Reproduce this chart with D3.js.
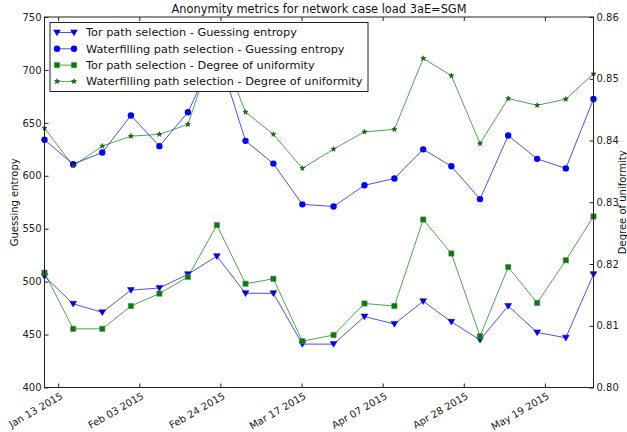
<!DOCTYPE html>
<html>
<head>
<meta charset="utf-8">
<script src="https://cdn.jsdelivr.net/npm/d3@7"></script>
<style>
  html, body { margin: 0; padding: 0; background: #fff; }
  svg { display: block; font-family: "DejaVu Sans", sans-serif; }
</style>
</head>
<body>
<svg id="chart" width="627" height="432"></svg>
<script>
// ---- data ----
const dates = [
  "2015-01-09T11:00", "2015-01-16T21:00", "2015-01-24T10:00", "2015-01-31T20:00",
  "2015-02-08T05:00", "2015-02-15T14:00", "2015-02-23T02:00", "2015-03-02T12:00",
  "2015-03-09T17:00", "2015-03-17T05:00", "2015-03-25T07:00", "2015-04-02T07:00",
  "2015-04-10T01:00", "2015-04-17T12:00", "2015-04-24T19:00", "2015-05-02T05:00",
  "2015-05-09T12:00", "2015-05-17T00:00", "2015-05-24T10:00", "2015-05-31T14:00"
];
const torEntropy = [505, 479, 471, 492, 494, 507, 524, 489, 489, 441,
                    441, 467, 460, 481.5, 462, 445, 477, 452, 447, 507];
const wfEntropy = [634, 611, 622, 657, 628, 660, 719, 633, 611.5, 573,
                   571, 591, 597.5, 625, 609, 578, 638, 616, 607, 672.5];
const torUniformity = [0.8186, 0.8095, 0.8095, 0.8132, 0.8152, 0.8179, 0.8263, 0.8168, 0.8176, 0.8075,
                       0.8085, 0.8136, 0.8132, 0.8272, 0.8217, 0.8083, 0.8195, 0.8137, 0.8206, 0.8277];
const wfUniformity = [0.8420, 0.8359, 0.8391, 0.8407, 0.8410, 0.8426, 0.8565, 0.8446, 0.8410, 0.8355,
                      0.8386, 0.8414, 0.8418, 0.8533, 0.8505, 0.8395, 0.8468, 0.8457, 0.8467, 0.8508];
const xTickDates = ["2015-01-13", "2015-02-03", "2015-02-24", "2015-03-17", "2015-04-07", "2015-04-28", "2015-05-19"];
const leftTicks = [400, 450, 500, 550, 600, 650, 700, 750];
const rightTicks = [0.80, 0.81, 0.82, 0.83, 0.84, 0.85, 0.86];
const titleText = "Anonymity metrics for network case load 3aE=SGM";
const seriesNames = [
  "Tor path selection - Guessing entropy",
  "Waterfilling path selection - Guessing entropy",
  "Tor path selection - Degree of uniformity",
  "Waterfilling path selection - Degree of uniformity"
];

// ---- layout ----
const W = 627, H = 432;
const m = { left: 44.5, right: 593.5, top: 17, bottom: 387.5 };
const svg = d3.select("#chart");
const parse = s => new Date(s);
const xDates = dates.map(parse);

const x = d3.scaleTime().domain(d3.extent(xDates)).range([m.left, m.right]);
const yL = d3.scaleLinear().domain([400, 750]).range([m.bottom, m.top]);
const yR = d3.scaleLinear().domain([0.80, 0.86]).range([m.bottom, m.top]);

const BLUE = "#0000ff", GREEN = "#008000";
const series = [
  { name: seriesNames[0], vals: torEntropy, y: yL, color: BLUE, marker: "tri" },
  { name: seriesNames[1], vals: wfEntropy, y: yL, color: BLUE, marker: "circle" },
  { name: seriesNames[2], vals: torUniformity, y: yR, color: GREEN, marker: "square" },
  { name: seriesNames[3], vals: wfUniformity, y: yR, color: GREEN, marker: "star" }
];

const symbols = {
  tri: d3.symbol().type({ draw(ctx, size) { const r = 3.4; ctx.moveTo(-r, -r*0.75); ctx.lineTo(r, -r*0.75); ctx.lineTo(0, r*0.95); ctx.closePath(); } }).size(1),
  circle: d3.symbol().type(d3.symbolCircle).size(32),
  square: d3.symbol().type(d3.symbolSquare).size(28),
  star: d3.symbol().type(d3.symbolStar).size(8)
};
function drawMarker(g, s, cx, cy) {
  const p = g.append("path").attr("d", symbols[s.marker]())
    .attr("transform", `translate(${cx},${cy})`)
    .attr("fill", s.color);
  if (s.marker === "square") p.attr("stroke", "#777").attr("stroke-width", 0.6);
  else if (s.marker === "tri") p.attr("stroke", "#000080").attr("stroke-width", 0.5);
  else if (s.marker === "star") p.attr("stroke", "#003000").attr("stroke-width", 0.5);
}

// clip
svg.append("defs").append("clipPath").attr("id", "clip")
  .append("rect").attr("x", m.left).attr("y", m.top).attr("width", m.right - m.left).attr("height", m.bottom - m.top);

const plot = svg.append("g").attr("clip-path", "url(#clip)");
series.forEach(s => {
  const line = d3.line().x((d, i) => x(xDates[i])).y(d => s.y(d));
  plot.append("path").datum(s.vals).attr("d", line)
    .attr("fill", "none").attr("stroke", s.color).attr("stroke-width", 1).attr("stroke-opacity", 0.7);
});
series.forEach(s => {
  const g = svg.append("g");
  s.vals.forEach((v, i) => drawMarker(g, s, x(xDates[i]), s.y(v)));
});

// axes
const fs = 10;
const axisColor = "#222";
const xAxis = d3.axisBottom(x).tickValues(xTickDates.map(parse)).tickFormat(d3.timeFormat("%b %d %Y"))
  .tickSizeInner(-4).tickSizeOuter(0).tickPadding(5);
const gx = svg.append("g").attr("transform", `translate(0,${m.bottom})`).call(xAxis);
gx.selectAll("text").attr("font-size", fs).attr("fill", "#222")
  .attr("text-anchor", "end")
  .attr("transform", "translate(1,4) rotate(-30)").attr("x", 0).attr("y", 0).attr("dy", "0.75em");

const gxTop = svg.append("g").attr("transform", `translate(0,${m.top})`)
  .call(d3.axisTop(x).tickValues(xTickDates.map(parse)).tickFormat("").tickSizeInner(-4).tickSizeOuter(0));

const gyL = svg.append("g").attr("transform", `translate(${m.left},0)`)
  .call(d3.axisLeft(yL).tickValues(leftTicks).tickFormat(d3.format("d")).tickSizeInner(-4).tickSizeOuter(0).tickPadding(3));
gyL.selectAll("text").attr("font-size", fs).attr("fill", "#222");

const gyR = svg.append("g").attr("transform", `translate(${m.right},0)`)
  .call(d3.axisRight(yR).tickValues(rightTicks).tickFormat(d3.format(".2f")).tickSizeInner(-4).tickSizeOuter(0).tickPadding(3));
gyR.selectAll("text").attr("font-size", fs).attr("fill", "#222");

[gx, gxTop, gyL, gyR].forEach(g => {
  g.select(".domain").remove();
  g.selectAll("line").attr("stroke", axisColor);
  g.attr("font-family", null);
});

// frame
svg.append("rect").attr("x", m.left).attr("y", m.top)
  .attr("width", m.right - m.left).attr("height", m.bottom - m.top)
  .attr("fill", "none").attr("stroke", axisColor).attr("stroke-width", 1);

// labels
svg.append("text").attr("x", (m.left + m.right) / 2).attr("y", 13)
  .attr("text-anchor", "middle").attr("font-size", 11.4).attr("fill", "#111").text(titleText);
svg.append("text").attr("transform", `translate(18,${(m.top + m.bottom) / 2}) rotate(-90)`)
  .attr("text-anchor", "middle").attr("font-size", fs).attr("fill", "#111").text("Guessing entropy");
svg.append("text").attr("transform", `translate(626,${(m.top + m.bottom) / 2}) rotate(-90)`)
  .attr("text-anchor", "middle").attr("font-size", fs).attr("fill", "#111").text("Degree of uniformity");

// legend
const lg = svg.append("g");
const lx = 50, ly = 22.5, lw = 318, lh = 69;
lg.append("rect").attr("x", lx).attr("y", ly).attr("width", lw).attr("height", lh)
  .attr("fill", "#fff").attr("stroke", "#222").attr("stroke-width", 1);
series.forEach((s, i) => {
  const cy = 32.5 + i * 16.3;
  lg.append("line").attr("x1", 57).attr("x2", 74).attr("y1", cy).attr("y2", cy)
    .attr("stroke", s.color).attr("stroke-width", 1).attr("stroke-opacity", 0.7);
  drawMarker(lg, s, 57, cy);
  drawMarker(lg, s, 74, cy);
  lg.append("text").attr("x", 86).attr("y", cy).attr("dy", "0.35em")
    .attr("font-size", 11.3).attr("fill", "#111").text(s.name);
});
</script>
</body>
</html>
